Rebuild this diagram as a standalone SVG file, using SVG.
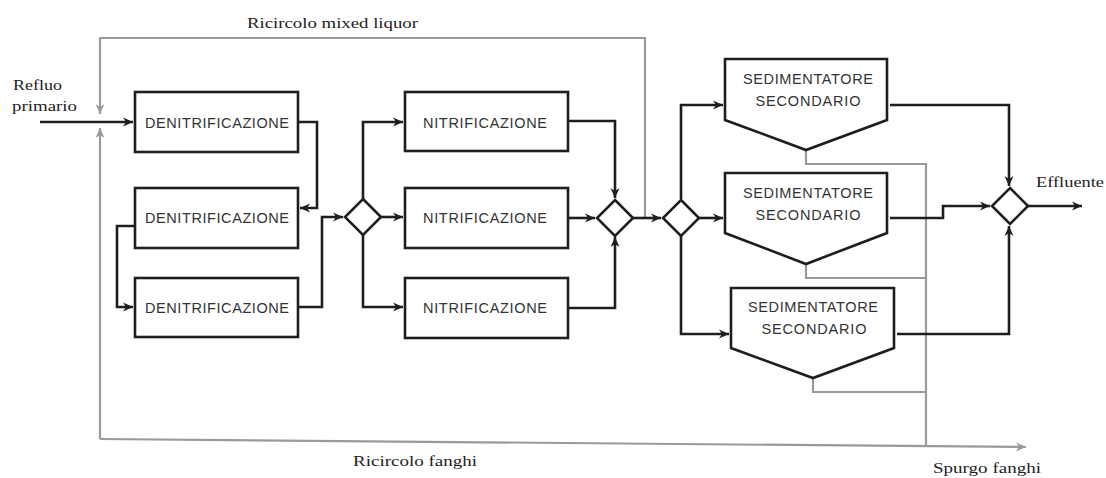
<svg xmlns="http://www.w3.org/2000/svg" width="1106" height="478" viewBox="0 0 1106 478">
<style>
.box{fill:#fff;stroke:#1e1e1e;stroke-width:2.6}
.lbl{font-family:"Liberation Sans",Arial,sans-serif;font-size:14.5px;fill:#333;text-anchor:middle}
.ser{font-family:"Liberation Serif","Times New Roman",serif;font-size:15.5px;fill:#222}
.blk{fill:none;stroke:#1e1e1e;stroke-width:2.6}
.gry{fill:none;stroke:#9a9a9a;stroke-width:2.2}
</style>
<defs>
<marker id="ab" markerUnits="userSpaceOnUse" markerWidth="11" markerHeight="11" refX="10" refY="5" orient="auto" viewBox="0 0 11 11">
<path d="M0,0.5 L10,5 L0,9.5 L3,5 z" fill="#1e1e1e"/>
</marker>
<marker id="ag" markerUnits="userSpaceOnUse" markerWidth="11" markerHeight="11" refX="10" refY="5" orient="auto" viewBox="0 0 11 11">
<path d="M0,0.5 L10,5 L0,9.5 L3,5 z" fill="#9a9a9a"/>
</marker>
</defs>

<g id="connectors">
<g id="grey-lines">
<path class="gry" d="M645 218 V38 H100 V114" marker-end="url(#ag)"/>
<path class="gry" d="M100 439 V128" marker-end="url(#ag)"/>
<path class="gry" d="M100 439 L1026 447" marker-end="url(#ag)"/>
<path class="gry" d="M806 150 V164 H926 V446"/>
<path class="gry" d="M806 264 V278 H926"/>
<path class="gry" d="M813 378 V392 H926"/>
</g>
<g id="black-lines">
<path class="blk" d="M40 122 H133" marker-end="url(#ab)"/>
<path class="blk" d="M298 122 H317 V208 H300" marker-end="url(#ab)"/>
<path class="blk" d="M135 226 H117 V307 H133" marker-end="url(#ab)"/>
<path class="blk" d="M298 307 H322 V217 H343" marker-end="url(#ab)"/>
<path class="blk" d="M363 199 V122 H403" marker-end="url(#ab)"/>
<path class="blk" d="M381 217 H403" marker-end="url(#ab)"/>
<path class="blk" d="M363 235 V307 H403" marker-end="url(#ab)"/>
<path class="blk" d="M568 121 H615 V198" marker-end="url(#ab)"/>
<path class="blk" d="M568 218 H595" marker-end="url(#ab)"/>
<path class="blk" d="M568 308 H615 V237" marker-end="url(#ab)"/>
<path class="blk" d="M633 218 H661" marker-end="url(#ab)"/>
<path class="blk" d="M681 199 V105 H723" marker-end="url(#ab)"/>
<path class="blk" d="M699 218 H723" marker-end="url(#ab)"/>
<path class="blk" d="M681 236 V334 H729" marker-end="url(#ab)"/>
<path class="blk" d="M890 105 H1009 V186" marker-end="url(#ab)"/>
<path class="blk" d="M890 218 H943 V206 H990" marker-end="url(#ab)"/>
<path class="blk" d="M897 334 H1009 V226" marker-end="url(#ab)"/>
<path class="blk" d="M1028 206 H1082" marker-end="url(#ab)"/>
</g>
</g>

<g id="denit1"><rect class="box" x="135" y="92" width="163" height="60"/><text class="lbl" x="217" y="128" textLength="144" lengthAdjust="spacing">DENITRIFICAZIONE</text></g>
<g id="denit2"><rect class="box" x="135" y="188" width="163" height="60"/><text class="lbl" x="217" y="223" textLength="144" lengthAdjust="spacing">DENITRIFICAZIONE</text></g>
<g id="denit3"><rect class="box" x="135" y="278" width="163" height="59"/><text class="lbl" x="217" y="313" textLength="144" lengthAdjust="spacing">DENITRIFICAZIONE</text></g>

<g id="nitr1"><rect class="box" x="405" y="92" width="163" height="59"/><text class="lbl" x="485" y="128" textLength="124" lengthAdjust="spacing">NITRIFICAZIONE</text></g>
<g id="nitr2"><rect class="box" x="405" y="188" width="163" height="60"/><text class="lbl" x="485" y="223" textLength="124" lengthAdjust="spacing">NITRIFICAZIONE</text></g>
<g id="nitr3"><rect class="box" x="405" y="278" width="163" height="60"/><text class="lbl" x="485" y="313" textLength="124" lengthAdjust="spacing">NITRIFICAZIONE</text></g>

<g id="diamond1"><path class="box" d="M363 199 L381 217 L363 235 L345 217 Z"/></g>
<g id="diamond2"><path class="box" d="M615 200 L633 218 L615 236 L597 218 Z"/></g>
<g id="diamond3"><path class="box" d="M681 200 L699 218 L681 236 L663 218 Z"/></g>
<g id="diamond4"><path class="box" d="M1010 188 L1028 206 L1010 224 L992 206 Z"/></g>

<g id="sed1"><path class="box" d="M725 59 H887 V120 L806 150 L725 120 Z"/>
<text class="lbl" x="808" y="84" textLength="130" lengthAdjust="spacing">SEDIMENTATORE</text>
<text class="lbl" x="808" y="106" textLength="105" lengthAdjust="spacing">SECONDARIO</text></g>
<g id="sed2"><path class="box" d="M725 173 H887 V233 L806 264 L725 233 Z"/>
<text class="lbl" x="808" y="198" textLength="130" lengthAdjust="spacing">SEDIMENTATORE</text>
<text class="lbl" x="808" y="220" textLength="105" lengthAdjust="spacing">SECONDARIO</text></g>
<g id="sed3"><path class="box" d="M731 288 H894 V348 L813 378 L731 348 Z"/>
<text class="lbl" x="813" y="312" textLength="130" lengthAdjust="spacing">SEDIMENTATORE</text>
<text class="lbl" x="814" y="334" textLength="105" lengthAdjust="spacing">SECONDARIO</text></g>

<g id="labels">
<text class="ser" x="247" y="28" textLength="171" lengthAdjust="spacingAndGlyphs">Ricircolo mixed liquor</text>
<text class="ser" x="13" y="90" textLength="49" lengthAdjust="spacingAndGlyphs">Refluo</text>
<text class="ser" x="12" y="111" textLength="65" lengthAdjust="spacingAndGlyphs">primario</text>
<text class="ser" x="1036" y="187" textLength="68" lengthAdjust="spacingAndGlyphs">Effluente</text>
<text class="ser" x="353" y="466" textLength="124" lengthAdjust="spacingAndGlyphs">Ricircolo fanghi</text>
<text class="ser" x="933" y="473" textLength="108" lengthAdjust="spacingAndGlyphs">Spurgo fanghi</text>
</g>
</svg>
